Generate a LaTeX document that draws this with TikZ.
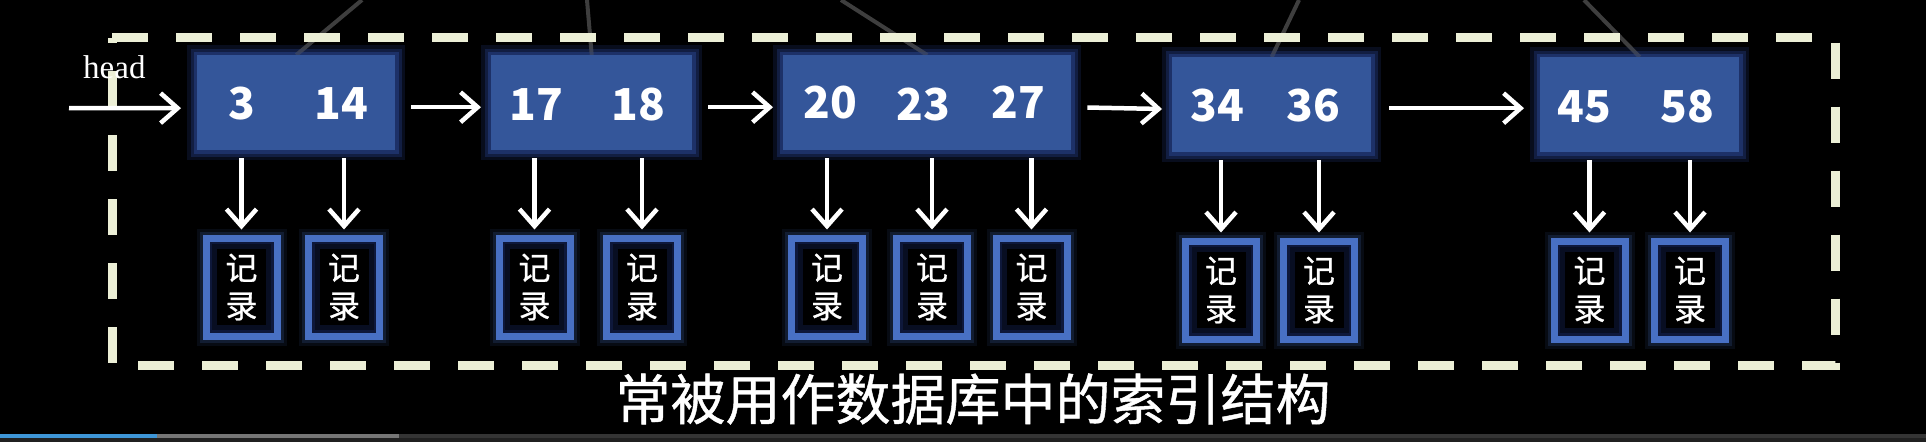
\documentclass[tikz,border=0pt]{standalone}
\usepackage{fontspec}
\setmainfont{Liberation Serif}
\newfontfamily\cjk{Noto Sans CJK SC}
\newfontfamily\cjkm{Noto Sans CJK SC}[FakeBold=0.8]
\usetikzlibrary{arrows.meta}
\definecolor{boxblue}{RGB}{52,86,154}
\definecolor{glowblue}{RGB}{45,75,155}
\definecolor{recblue}{RGB}{72,112,196}
\definecolor{recinner}{RGB}{20,35,85}
\definecolor{dashcol}{RGB}{236,239,214}
\definecolor{treeline}{RGB}{62,62,62}
\definecolor{barblue}{RGB}{62,150,215}
\definecolor{bargray}{RGB}{118,118,118}
\definecolor{bardark}{RGB}{52,52,52}
\definecolor{barbottom}{RGB}{32,32,32}
\begin{document}
\begin{tikzpicture}[x=1pt,y=-1pt,
  idx/.style={fill=boxblue, minimum width=#1, minimum height=95pt, inner sep=0pt, anchor=north west,
    preaction={draw=glowblue, line width=20pt, opacity=0.10},
    preaction={draw=glowblue, line width=13pt, opacity=0.16},
    preaction={draw=glowblue, line width=7pt, opacity=0.25}},
  num/.style={text=white, font=\cjk\bfseries\fontsize{44}{44}\selectfont, inner sep=0pt},
  rec/.style={draw=recblue, line width=7pt, fill=black, minimum width=71pt, minimum height=98pt,
    inner sep=0pt, text=white, align=center, font=\cjkm\fontsize{32}{38}\selectfont,
    preaction={draw=recblue, line width=19pt, opacity=0.10},
    preaction={draw=recblue, line width=13pt, opacity=0.18},
    path picture={
      \draw[recinner, line width=22pt, opacity=0.40] (path picture bounding box.south west) rectangle (path picture bounding box.north east);
      \draw[recinner, line width=12pt, opacity=0.50] (path picture bounding box.south west) rectangle (path picture bounding box.north east);}},
  arr/.style={draw=white, line width=4.5pt, -{Straight Barb[length=17pt,width=30pt]}},
  harr/.style={arr, shorten <=16pt, shorten >=10pt},
  varr/.style={arr, shorten >=5pt},
  tree/.style={draw=treeline, line width=4pt}]
\useasboundingbox (0,0) rectangle (1926,442);
\fill[black] (0,0) rectangle (1926,442);

% index boxes (first pass, to place anchors)
\node[idx=198pt] (b1) at (197,55) {};
\node[idx=201pt] (b2) at (491,55) {};
\node[idx=288pt] (b3) at (783,55) {};
\node[idx=199pt] (b4) at (1172,57) {};
\node[idx=199pt] (b5) at (1540,57) {};

% faint tree lines from above
\coordinate (t1) at (362,0);
\coordinate (t2) at (587,0);
\coordinate (t3) at (841,0);
\coordinate (t4) at (1299,0);
\coordinate (t5) at (1584,0);
\draw[tree] (t1) -- (b1.north);
\draw[tree] (t2) -- (b2.north);
\draw[tree] (t3) -- (b3.north);
\draw[tree] (t4) -- (b4.north);
\draw[tree] (t5) -- (b5.north);
% boxes again over the lines
\node[idx=198pt] at (197,55) {};
\node[idx=201pt] at (491,55) {};
\node[idx=288pt] at (783,55) {};
\node[idx=199pt] at (1172,57) {};
\node[idx=199pt] at (1540,57) {};

% dashed frame
\draw[dashcol, line width=9pt, dash pattern=on 36pt off 28pt] (112,37.5) -- (1835,37.5) -- (1835,365) -- (112,365) -- cycle;

% numbers
\node[num] (n1a) at (242,103.5) {3};
\node[num] (n1b) at (341,103.5) {14};
\node[num] (n2a) at (536,104.5) {17};
\node[num] (n2b) at (638,104.5) {18};
\node[num] (n3a) at (830,102.5) {20};
\node[num] (n3b) at (923,104.5) {23};
\node[num] (n3c) at (1018,102.5) {27};
\node[num] (n4a) at (1217,105.5) {34};
\node[num] (n4b) at (1313,105.5) {36};
\node[num] (n5a) at (1584,106.5) {45};
\node[num] (n5b) at (1687,106.5) {58};

% records
\node[rec] (r1) at (241.5,287) {记\\录};
\node[rec] (r2) at (344,287) {记\\录};
\node[rec] (r3) at (534.5,287) {记\\录};
\node[rec] (r4) at (642,287) {记\\录};
\node[rec] (r5) at (827,287) {记\\录};
\node[rec] (r6) at (932,287) {记\\录};
\node[rec] (r7) at (1031.5,287) {记\\录};
\node[rec] (r8) at (1221,290) {记\\录};
\node[rec] (r9) at (1319,290) {记\\录};
\node[rec] (r10) at (1589.5,290) {记\\录};
\node[rec] (r11) at (1690,290) {记\\录};

% head
\node[anchor=base west, text=white, font=\fontsize{33}{33}\selectfont, inner sep=0pt] (head) at (83,78) {head};
\coordinate (hs) at (69,108);
\draw[arr, shorten >=16pt] (hs) -- ([yshift=-5.5pt]b1.west);

% horizontal arrows
\draw[harr] ([yshift=-4.5pt]b1.east) -- ([yshift=-4.5pt]b2.west);
\draw[harr] ([yshift=-4.5pt]b2.east) -- ([yshift=-4.5pt]b3.west);
\draw[harr] ([yshift=-4.5pt]b3.east) -- ([yshift=-4.5pt]b4.west);
\draw[harr, shorten <=18pt, shorten >=16pt] ([yshift=-3.5pt]b4.east) -- ([yshift=-3.5pt]b5.west);

% down arrows
\foreach \b/\r in {b1/r1,b1/r2,b2/r3,b2/r4,b3/r5,b3/r6,b3/r7,b4/r8,b4/r9,b5/r10,b5/r11}{
  \draw[varr] ([yshift=-8pt]\b.south -| \r.north) -- (\r.north);
}

% subtitle
\node[text=white, font=\cjkm\fontsize{55}{55}\selectfont, inner sep=0pt] (sub) at (973,399) {常被用作数据库中的索引结构};

% progress bar
\fill[barbottom] (0,438) rectangle (1926,442);
\fill[bardark] (0,434) rectangle (1926,438);
\fill[bargray] (0,434) rectangle (399,438);
\fill[barblue] (0,434) rectangle (157,438);
\end{tikzpicture}
\end{document}
